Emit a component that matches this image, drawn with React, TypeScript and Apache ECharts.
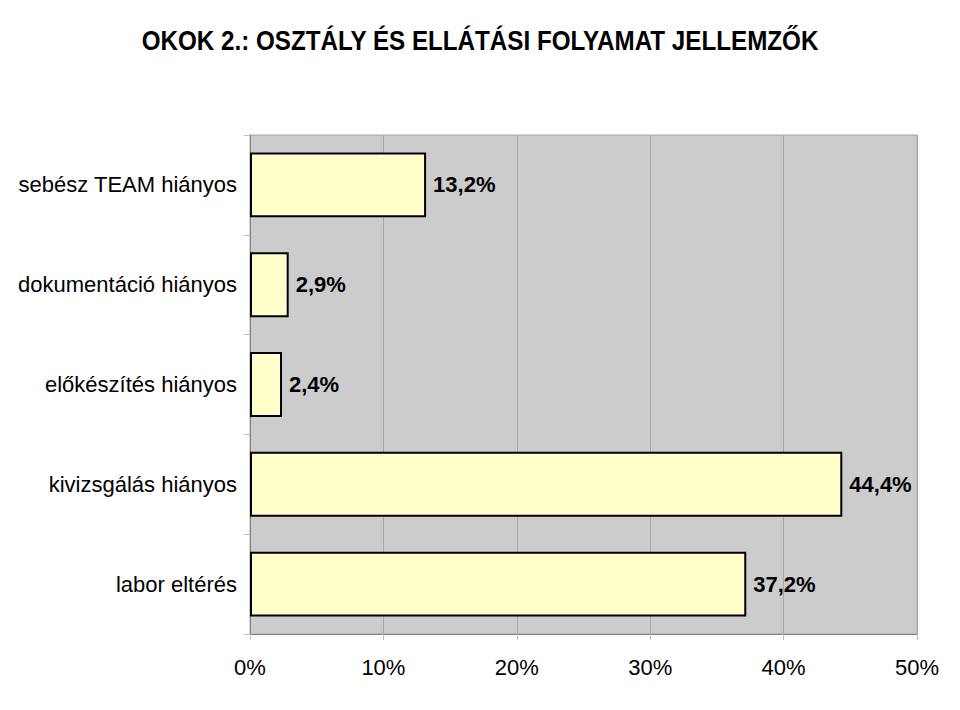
import { useEffect, useRef } from "react";
import * as echarts from "echarts";

const titleText = "OKOK 2.: OSZTÁLY ÉS ELLÁTÁSI FOLYAMAT JELLEMZŐK";
const categories = [
    "sebész TEAM hiányos",
    "dokumentáció hiányos",
    "előkészítés hiányos",
    "kivizsgálás hiányos",
    "labor eltérés",
];
const values = [13.2, 2.9, 2.4, 44.4, 37.2];

const FONT = "'Liberation Sans', Arial, sans-serif";

export default function App() {
    const chartRef = useRef<HTMLDivElement | null>(null);

    useEffect(() => {
        if (!chartRef.current) return;
        const chart = echarts.init(chartRef.current, null, { renderer: "svg" });

        const option: echarts.EChartsOption = {
            animation: false,
            backgroundColor: "#ffffff",
            textStyle: { fontFamily: FONT },
            graphic: [
                {
                    // title drawn as graphic text so it can be narrowed like the original
                    type: "text",
                    x: 480,
                    y: 40,
                    scaleX: 0.865,
                    style: {
                        text: titleText,
                        fontFamily: FONT,
                        fontSize: 28,
                        fontWeight: "bold",
                        fill: "#000",
                        align: "center",
                        verticalAlign: "middle",
                        textAlign: "center",
                        textVerticalAlign: "middle",
                    } as any,
                },
            ],
            grid: {
                left: 250,
                right: 43,
                top: 135,
                bottom: 76,
                show: true,
                backgroundColor: "#cccccc",
                borderColor: "#a6a6a6",
                borderWidth: 1,
            },
            xAxis: {
                type: "value",
                min: 0,
                max: 50,
                interval: 10,
                axisLine: { show: true, lineStyle: { color: "#808080", width: 1 } },
                axisTick: { show: true, length: 6, lineStyle: { color: "#c0c0c0" } },
                splitLine: { show: true, lineStyle: { color: "#a6a6a6", width: 1 } },
                axisLabel: {
                    margin: 22,
                    fontFamily: FONT,
                    fontSize: 22,
                    color: "#000",
                    formatter: (v: number) => `${v}%`,
                },
            },
            yAxis: {
                type: "category",
                data: categories,
                inverse: true,
                axisLine: { show: true, lineStyle: { color: "#808080", width: 1 } },
                axisTick: { show: true, length: 6, lineStyle: { color: "#c0c0c0" } },
                axisLabel: {
                    margin: 13,
                    fontFamily: FONT,
                    fontSize: 22,
                    color: "#000",
                },
            },
            series: [
                {
                    type: "bar",
                    data: values,
                    barCategoryGap: "35%",
                    itemStyle: { color: "#ffffcc", borderColor: "#000", borderWidth: 2 },
                    label: {
                        show: true,
                        position: "right",
                        distance: 7,
                        fontFamily: FONT,
                        fontSize: 22,
                        fontWeight: "bold",
                        color: "#000",
                        formatter: (p: any) => `${String(p.value).replace(".", ",")}%`,
                    },
                },
            ],
        };

        chart.setOption(option);
        return () => chart.dispose();
    }, []);

    return (
        <div
            ref={chartRef}
            style={{ position: "absolute", left: 0, top: 0, width: 960, height: 710 }}
        />
    );
}
